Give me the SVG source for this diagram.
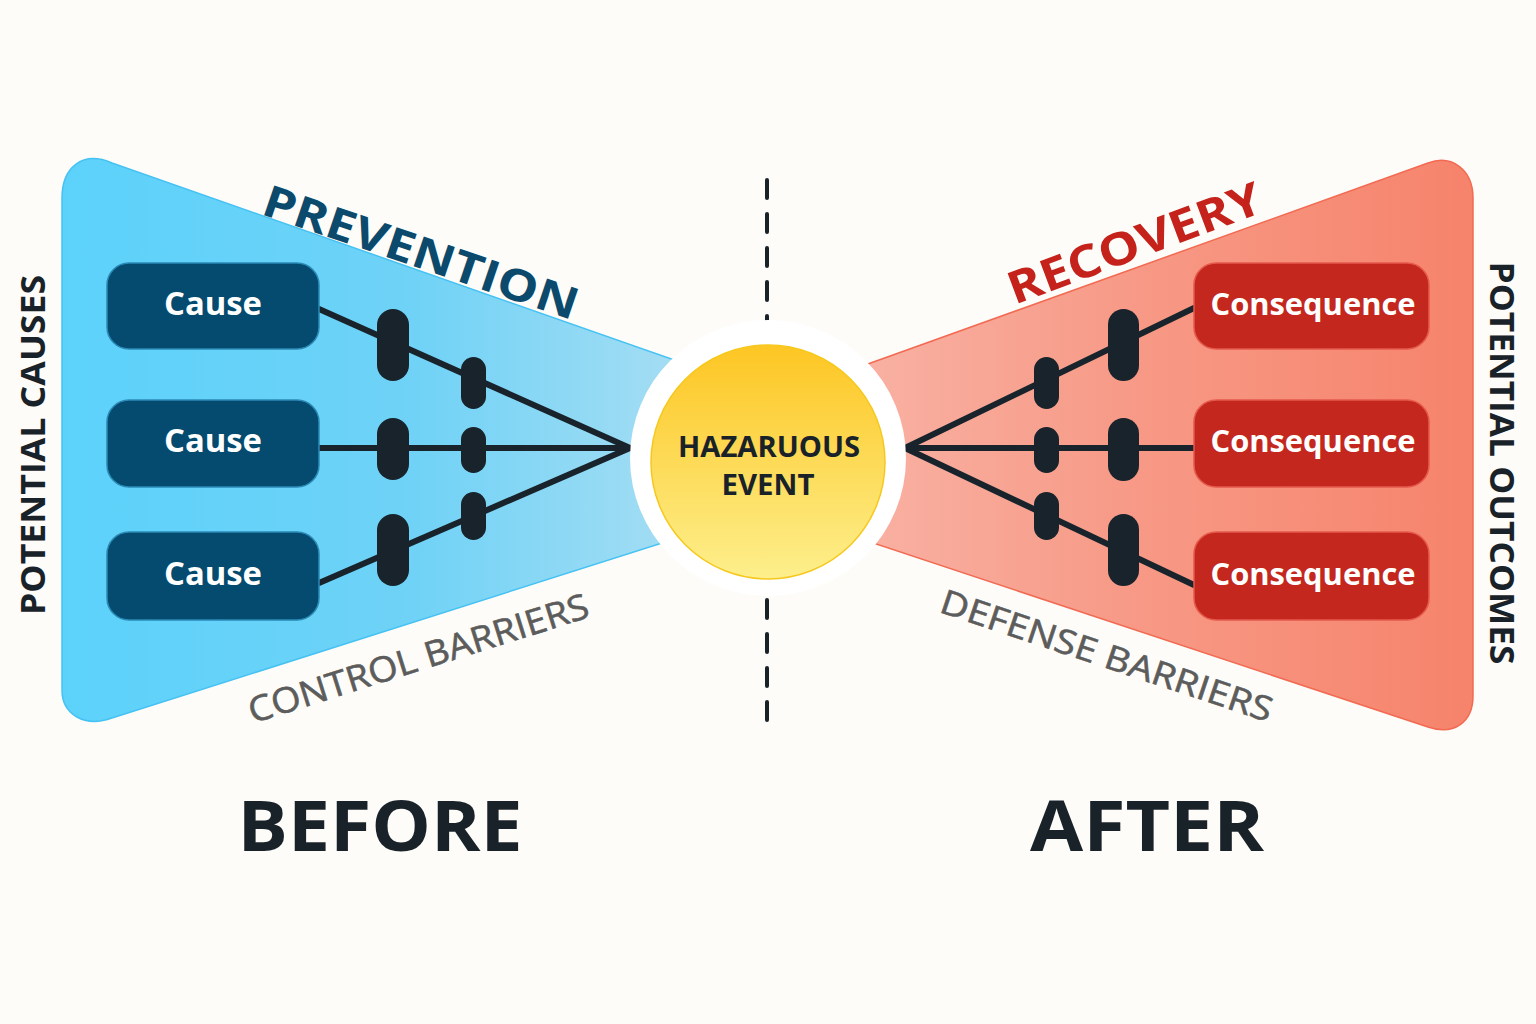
<svg xmlns="http://www.w3.org/2000/svg" width="1536" height="1024" viewBox="0 0 1536 1024">
<defs>
<linearGradient id="gBlue" x1="62" y1="0" x2="700" y2="0" gradientUnits="userSpaceOnUse">
<stop offset="0" stop-color="#5cd2fb"/><stop offset="0.55" stop-color="#6fd2f6"/><stop offset="1" stop-color="#a9def3"/>
</linearGradient>
<linearGradient id="gRed" x1="840" y1="0" x2="1473" y2="0" gradientUnits="userSpaceOnUse">
<stop offset="0" stop-color="#f9b3a5"/><stop offset="0.45" stop-color="#f79a87"/><stop offset="1" stop-color="#f6836b"/>
</linearGradient>
<linearGradient id="gSun" x1="0" y1="0" x2="0" y2="1">
<stop offset="0" stop-color="#fdc623"/><stop offset="1" stop-color="#fdef8c"/>
</linearGradient>
<style>
.cause{fill:#044b6f;stroke:#2a8ab5;stroke-width:1.5}
.cons{fill:#c4271d;stroke:#e55a4c;stroke-width:1.5}
.ntxt{font-family:"Open Sans","Noto Sans",sans-serif;font-weight:700;fill:#ffffff;text-anchor:middle}
.line{stroke:#18232b;stroke-width:6;fill:none;stroke-linecap:round}
.pill{fill:#18232b}
.title{font-family:"Open Sans","Noto Sans",sans-serif;font-weight:700;text-anchor:middle}
.gray{font-family:"Open Sans","Noto Sans",sans-serif;font-weight:400;fill:#5c5c5c;text-anchor:middle;stroke:#5c5c5c;stroke-width:0.6}
.side{font-family:"Open Sans","Noto Sans",sans-serif;font-weight:700;fill:#1a2229;text-anchor:middle}
</style>
</defs>
<rect width="1536" height="1024" fill="#fdfcf8"/>

<g id="wedges">
<path d="M62,198 C62,168 82,150 112,163 L700,369 L700,531 L112,718 C84,728 62,714 62,690 Z" fill="url(#gBlue)" stroke="#45c2f3" stroke-width="1.5"/>
<path d="M840,374 L1428,163 C1452,154 1473,170 1473,198 L1473,696 C1473,722 1454,736 1428,727 L840,532 Z" fill="url(#gRed)" stroke="#f26a52" stroke-width="1.5"/>
</g>

<g id="divider">
<line x1="767" y1="180" x2="767" y2="326" stroke="#1a2229" stroke-width="4" stroke-dasharray="18 16" stroke-linecap="round"/>
<line x1="767" y1="600" x2="767" y2="730" stroke="#1a2229" stroke-width="4" stroke-dasharray="18 16" stroke-linecap="round"/>
</g>

<g id="connectors">
<path class="line" d="M319,309 L630,448 M319,448 L630,448 M319,583 L630,448"/>
<path class="line" d="M905,448 L1194,308 M905,448 L1194,448 M905,448 L1194,585"/>
</g>

<g id="barriers">
<rect class="pill" x="377" y="309" width="32" height="72" rx="16"/>
<rect class="pill" x="461" y="357" width="25" height="52" rx="12.5"/>
<rect class="pill" x="377" y="418" width="32" height="62" rx="16"/>
<rect class="pill" x="461" y="427" width="25" height="46" rx="12.5"/>
<rect class="pill" x="377" y="514" width="32" height="72" rx="16"/>
<rect class="pill" x="461" y="492" width="25" height="48" rx="12.5"/>
<rect class="pill" x="1034" y="357" width="25" height="52" rx="12.5"/>
<rect class="pill" x="1108" y="309" width="31" height="72" rx="15.5"/>
<rect class="pill" x="1034" y="427" width="25" height="46" rx="12.5"/>
<rect class="pill" x="1108" y="418" width="31" height="63" rx="15.5"/>
<rect class="pill" x="1034" y="492" width="25" height="48" rx="12.5"/>
<rect class="pill" x="1108" y="514" width="31" height="72" rx="15.5"/>
</g>

<g id="hazard">
<circle cx="768" cy="458" r="138" fill="#ffffff"/>
<circle cx="768" cy="462" r="117" fill="url(#gSun)" stroke="#f6c81e" stroke-width="1.5"/>
<text class="title" x="769" y="457" font-size="29" fill="#1a2229" textLength="182" lengthAdjust="spacingAndGlyphs">HAZARUOUS</text>
<text class="title" x="768" y="495" font-size="29" fill="#1a2229" textLength="93" lengthAdjust="spacingAndGlyphs">EVENT</text>
</g>

<g id="cause1"><rect class="cause" x="107" y="263" width="212" height="86" rx="22"/><text class="ntxt" x="213" y="315" font-size="32" textLength="98" lengthAdjust="spacingAndGlyphs">Cause</text></g>
<g id="cause2"><rect class="cause" x="107" y="400" width="212" height="87" rx="22"/><text class="ntxt" x="213" y="452" font-size="32" textLength="98" lengthAdjust="spacingAndGlyphs">Cause</text></g>
<g id="cause3"><rect class="cause" x="107" y="532" width="212" height="88" rx="22"/><text class="ntxt" x="213" y="585" font-size="32" textLength="98" lengthAdjust="spacingAndGlyphs">Cause</text></g>

<g id="consequence1"><rect class="cons" x="1194" y="263" width="235" height="86" rx="22"/><text class="ntxt" x="1313" y="315" font-size="31" textLength="205" lengthAdjust="spacingAndGlyphs">Consequence</text></g>
<g id="consequence2"><rect class="cons" x="1194" y="400" width="235" height="87" rx="22"/><text class="ntxt" x="1313" y="452" font-size="31" textLength="205" lengthAdjust="spacingAndGlyphs">Consequence</text></g>
<g id="consequence3"><rect class="cons" x="1194" y="532" width="235" height="88" rx="22"/><text class="ntxt" x="1313" y="585" font-size="31" textLength="205" lengthAdjust="spacingAndGlyphs">Consequence</text></g>

<g id="labels">
<text class="title" x="416" y="267" font-size="44" fill="#0b4a6c" textLength="330" lengthAdjust="spacingAndGlyphs" transform="rotate(18.8 416 267)">PREVENTION</text>
<text class="title" x="1140" y="258" font-size="45" fill="#c4221a" textLength="268" lengthAdjust="spacingAndGlyphs" transform="rotate(-20.5 1140 258)">RECOVERY</text>
<text class="gray" x="422" y="670" font-size="35" textLength="355" lengthAdjust="spacingAndGlyphs" transform="rotate(-17.5 422 670)">CONTROL BARRIERS</text>
<text class="gray" x="1103" y="667" font-size="34" textLength="348" lengthAdjust="spacingAndGlyphs" transform="rotate(18.5 1103 667)">DEFENSE BARRIERS</text>
<text class="side" x="45" y="445" font-size="34" textLength="340" lengthAdjust="spacingAndGlyphs" transform="rotate(-90 45 445)">POTENTIAL CAUSES</text>
<text class="side" x="1490" y="463" font-size="34" textLength="403" lengthAdjust="spacingAndGlyphs" transform="rotate(90 1490 463)">POTENTIAL OUTCOMES</text>
<text class="side" x="380" y="851" font-size="70" textLength="285" lengthAdjust="spacingAndGlyphs">BEFORE</text>
<text class="side" x="1147" y="851" font-size="70" textLength="234" lengthAdjust="spacingAndGlyphs">AFTER</text>
</g>
</svg>
